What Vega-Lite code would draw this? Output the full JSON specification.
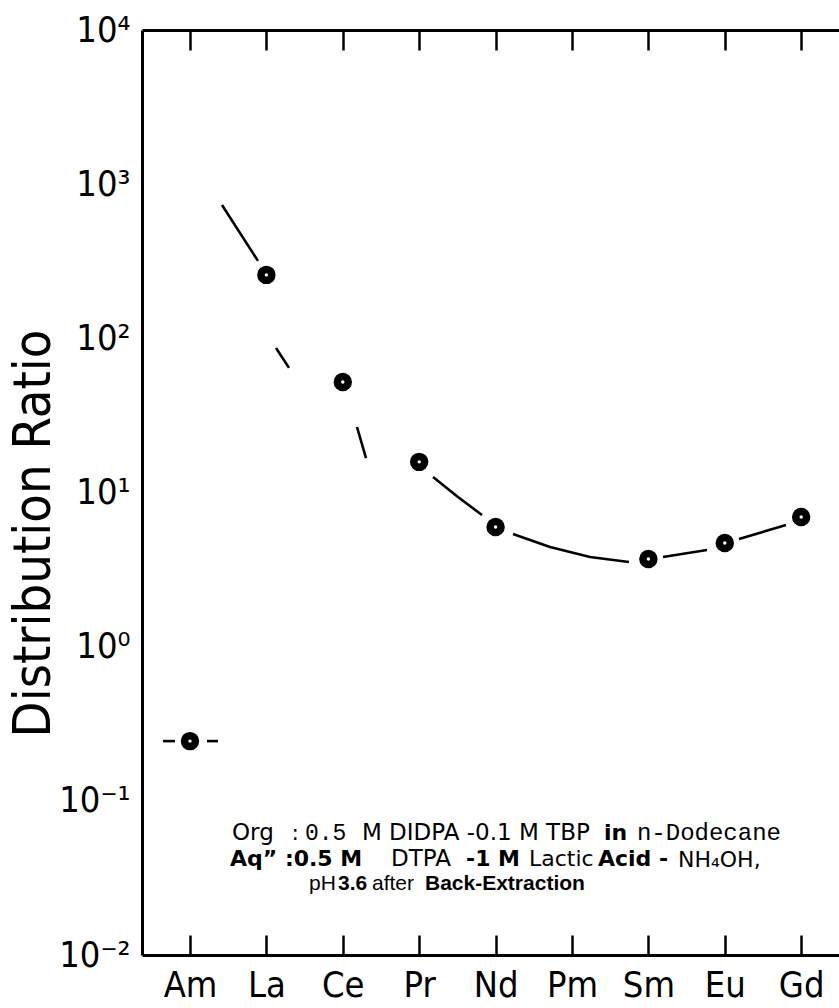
{
  "$schema": "https://vega.github.io/schema/vega-lite/v6.json",
  "width": 697,
  "height": 925,
  "padding": {"left": 142, "top": 30, "right": 0, "bottom": 53},
  "autosize": {"type": "none"},
  "background": "white",
  "config": {
    "view": {"stroke": null},
    "font": "'Liberation Sans Narrow', 'DejaVu Sans Condensed', 'Liberation Sans', sans-serif",
    "text": {"align": "left", "baseline": "alphabetic", "color": "black", "font": "DejaVu Sans", "fontSize": 22}
  },
  "datasets": {
    "points": [
      {"el": "Am", "i": 0, "D": 0.244},
      {"el": "La", "i": 1, "D": 258},
      {"el": "Ce", "i": 2, "D": 52.1},
      {"el": "Pr", "i": 3, "D": 15.8},
      {"el": "Nd", "i": 4, "D": 5.97},
      {"el": "Sm", "i": 6, "D": 3.70},
      {"el": "Eu", "i": 7, "D": 4.71},
      {"el": "Gd", "i": 8, "D": 6.94}
    ],
    "curve": [
      {"seg": "s1", "i": 0.419, "D": 733},
      {"seg": "s1", "i": 0.890, "D": 318},
      {"seg": "s2", "i": 1.126, "D": 86.5},
      {"seg": "s2", "i": 1.296, "D": 64.3},
      {"seg": "s3", "i": 2.186, "D": 26.6},
      {"seg": "s3", "i": 2.304, "D": 16.7},
      {"seg": "s4", "i": 3.181, "D": 12.6},
      {"seg": "s4", "i": 3.508, "D": 9.35},
      {"seg": "s4", "i": 3.822, "D": 7.14},
      {"seg": "s5", "i": 4.228, "D": 5.38},
      {"seg": "s5", "i": 4.712, "D": 4.43},
      {"seg": "s5", "i": 5.236, "D": 3.82},
      {"seg": "s5", "i": 5.746, "D": 3.54},
      {"seg": "s6", "i": 6.191, "D": 3.82},
      {"seg": "s6", "i": 6.767, "D": 4.24},
      {"seg": "s7", "i": 7.186, "D": 4.99},
      {"seg": "s7", "i": 7.801, "D": 6.15},
      {"seg": "a1", "i": -0.353, "D": 0.244},
      {"seg": "a1", "i": -0.196, "D": 0.244},
      {"seg": "a2", "i": 0.223, "D": 0.244},
      {"seg": "a2", "i": 0.366, "D": 0.244}
    ],
    "one": [{}]
  },
  "layer": [
    {
      "data": {"name": "curve"},
      "mark": {"type": "line", "color": "black", "strokeWidth": 2.6},
      "encoding": {
        "x": {
          "field": "i", "type": "quantitative",
          "scale": {"domain": [-0.628, 8.495], "nice": false, "zero": false},
          "axis": {
            "orient": "bottom", "values": [0, 1, 2, 3, 4, 5, 6, 7, 8],
            "labelExpr": "['Am','La','Ce','Pr','Nd','Pm','Sm','Eu','Gd'][datum.value]",
            "tickSize": -20, "tickWidth": 2.5, "tickColor": "black",
            "domainWidth": 3, "domainColor": "black",
            "labelFontSize": 36, "labelColor": "black",
            "labelPadding": 33, "grid": false, "title": null
          }
        },
        "y": {
          "field": "D", "type": "quantitative",
          "scale": {"type": "log", "domain": [0.01, 10000], "nice": false},
          "axis": {
            "orient": "left", "values": [0.01, 0.1, 1, 10, 100, 1000, 10000],
            "labelExpr": "datum.value >= 9999 ? '10⁴' : datum.value >= 999 ? '10³' : datum.value >= 99 ? '10²' : datum.value >= 9 ? '10¹' : datum.value >= 0.9 ? '10⁰' : datum.value >= 0.09 ? '10⁻¹' : '10⁻²'",
            "ticks": false, "domainWidth": 3, "domainColor": "black",
            "labelFontSize": 36, "labelColor": "black",
            "labelPadding": 12, "grid": false,
            "title": "Distribution Ratio",
            "titleFontSize": 52, "titleFontWeight": "normal", "titleColor": "black",
            "titleAngle": 270, "titleX": -109, "titleY": 503,
            "titleAlign": "center", "titleBaseline": "middle"
          }
        },
        "detail": {"field": "seg"}
      }
    },
    {
      "data": {"name": "points"},
      "mark": {"type": "point", "filled": true, "color": "black", "size": 340, "opacity": 1},
      "encoding": {
        "x": {
          "field": "i", "type": "quantitative",
          "axis": {
            "orient": "top", "values": [0, 1, 2, 3, 4, 5, 6, 7, 8], "labels": false,
            "tickSize": -20, "tickWidth": 2.5, "tickColor": "black",
            "domainWidth": 3, "domainColor": "black", "grid": false, "title": null
          }
        },
        "y": {"field": "D", "type": "quantitative"}
      }
    },
    {
      "data": {"name": "points"},
      "mark": {"type": "point", "filled": true, "color": "white", "size": 12, "opacity": 1},
      "encoding": {
        "x": {"field": "i", "type": "quantitative", "axis": null},
        "y": {"field": "D", "type": "quantitative"}
      }
    },
    {"data": {"name": "one"}, "mark": {"type": "text", "fontSize": 23},
     "encoding": {"x": {"datum": 0.55, "type": "quantitative", "axis": null}, "y": {"datum": 0.0557, "type": "quantitative"}, "text": {"value": "Org"}}},
    {"data": {"name": "one"}, "mark": {"type": "text"},
     "encoding": {"x": {"datum": 1.33, "type": "quantitative", "axis": null}, "y": {"datum": 0.0557, "type": "quantitative"}, "text": {"value": ":"}}},
    {"data": {"name": "one"}, "mark": {"type": "text", "font": "Liberation Mono", "fontSize": 23},
     "encoding": {"x": {"datum": 1.505, "type": "quantitative", "axis": null}, "y": {"datum": 0.0557, "type": "quantitative"}, "text": {"value": "0.5"}}},
    {"data": {"name": "one"}, "mark": {"type": "text", "fontSize": 23},
     "encoding": {"x": {"datum": 2.251, "type": "quantitative", "axis": null}, "y": {"datum": 0.0557, "type": "quantitative"}, "text": {"value": "M DIDPA -0.1 M TBP"}}},
    {"data": {"name": "one"}, "mark": {"type": "text", "fontWeight": "bold"},
     "encoding": {"x": {"datum": 5.419, "type": "quantitative", "axis": null}, "y": {"datum": 0.0557, "type": "quantitative"}, "text": {"value": "in"}}},
    {"data": {"name": "one"}, "mark": {"type": "text", "font": "Liberation Mono", "fontSize": 24},
     "encoding": {"x": {"datum": 5.85, "type": "quantitative", "axis": null}, "y": {"datum": 0.0557, "type": "quantitative"}, "text": {"value": "n-Dodecane"}}},
    {"data": {"name": "one"}, "mark": {"type": "text", "fontWeight": "bold"},
     "encoding": {"x": {"datum": 0.524, "type": "quantitative", "axis": null}, "y": {"datum": 0.0378, "type": "quantitative"}, "text": {"value": "Aq”  :0.5 M"}}},
    {"data": {"name": "one"}, "mark": {"type": "text", "fontSize": 23},
     "encoding": {"x": {"datum": 2.631, "type": "quantitative", "axis": null}, "y": {"datum": 0.0378, "type": "quantitative"}, "text": {"value": "DTPA"}}},
    {"data": {"name": "one"}, "mark": {"type": "text", "fontWeight": "bold"},
     "encoding": {"x": {"datum": 3.613, "type": "quantitative", "axis": null}, "y": {"datum": 0.0378, "type": "quantitative"}, "text": {"value": "-1 M"}}},
    {"data": {"name": "one"}, "mark": {"type": "text", "fontSize": 22},
     "encoding": {"x": {"datum": 4.437, "type": "quantitative", "axis": null}, "y": {"datum": 0.0378, "type": "quantitative"}, "text": {"value": "Lactic"}}},
    {"data": {"name": "one"}, "mark": {"type": "text", "fontWeight": "bold"},
     "encoding": {"x": {"datum": 5.34, "type": "quantitative", "axis": null}, "y": {"datum": 0.0378, "type": "quantitative"}, "text": {"value": "Acid -"}}},
    {"data": {"name": "one"}, "mark": {"type": "text", "fontSize": 22},
     "encoding": {"x": {"datum": 6.387, "type": "quantitative", "axis": null}, "y": {"datum": 0.0372, "type": "quantitative"}, "text": {"value": "NH₄OH,"}}},
    {"data": {"name": "one"}, "mark": {"type": "text", "font": "Liberation Sans", "fontSize": 21},
     "encoding": {"x": {"datum": 1.558, "type": "quantitative", "axis": null}, "y": {"datum": 0.0264, "type": "quantitative"}, "text": {"value": "pH"}}},
    {"data": {"name": "one"}, "mark": {"type": "text", "font": "Liberation Sans", "fontSize": 21, "fontWeight": "bold"},
     "encoding": {"x": {"datum": 1.937, "type": "quantitative", "axis": null}, "y": {"datum": 0.0264, "type": "quantitative"}, "text": {"value": "3.6"}}},
    {"data": {"name": "one"}, "mark": {"type": "text", "font": "Liberation Sans", "fontSize": 21},
     "encoding": {"x": {"datum": 2.382, "type": "quantitative", "axis": null}, "y": {"datum": 0.0264, "type": "quantitative"}, "text": {"value": "after"}}},
    {"data": {"name": "one"}, "mark": {"type": "text", "font": "Liberation Sans", "fontSize": 21, "fontWeight": "bold"},
     "encoding": {"x": {"datum": 3.076, "type": "quantitative", "axis": null}, "y": {"datum": 0.0264, "type": "quantitative"}, "text": {"value": "Back-Extraction"}}}
  ],
  "resolve": {"axis": {"x": "independent"}}
}
